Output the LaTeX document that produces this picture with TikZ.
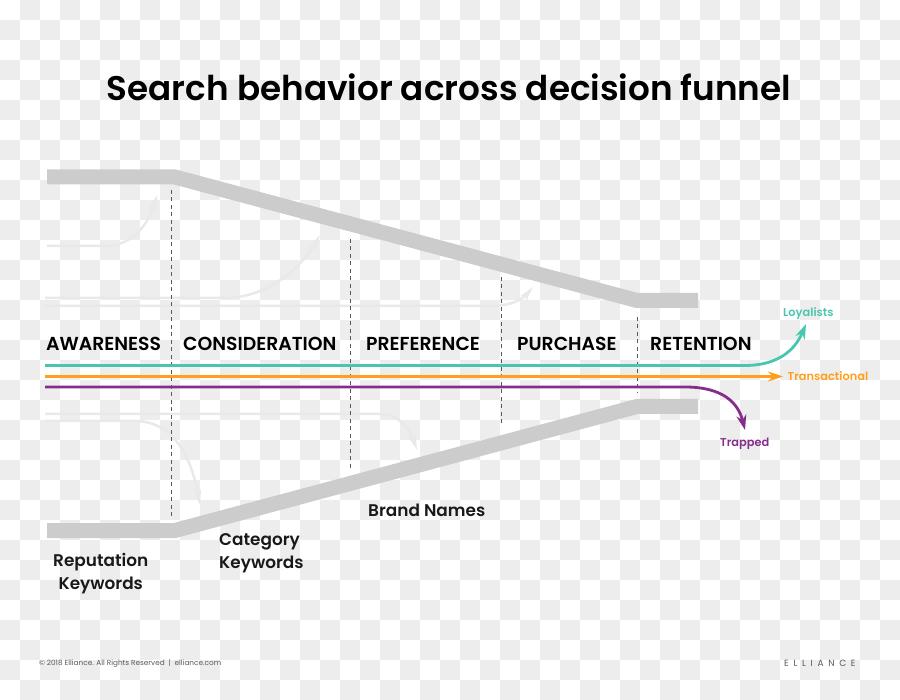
\documentclass[tikz,border=0pt]{standalone}
\usepackage{fontspec}
\setmainfont[BoldFont={Poppins SemiBold}]{Poppins}
\newfontfamily\logofont[LetterSpace=52]{Poppins}
\usetikzlibrary{arrows.meta}
\definecolor{chk}{HTML}{EDEDED}
\definecolor{band}{HTML}{CCCCCC}
\definecolor{ghost}{HTML}{E9E9E9}
\definecolor{tealc}{HTML}{4AC5B0}
\definecolor{orangec}{HTML}{FF9F1C}
\definecolor{purplec}{HTML}{862D8C}

\begin{document}
\begin{tikzpicture}[
  x=1pt,y=-1pt,
  >={Stealth[length=15pt,width=10pt]},
  band/.style={draw=band,line width=15pt,line join=miter},
  ghostline/.style={draw=ghost,line width=2.5pt,->,>={Stealth[length=16pt,width=8pt]}},
  stage/.style={dash pattern=on 4pt off 3.5pt,draw=black!65,line width=1pt},
  flow/.style={line width=2.8pt,->},
  ttl/.style={anchor=base,inner sep=0pt,font=\fontsize{34.2}{40}\selectfont\bfseries},
  head/.style={anchor=base west,inner sep=0pt,font=\fontsize{18.8}{22}\selectfont\bfseries},
  kw/.style={anchor=base west,inner sep=0pt,align=center,font=\fontsize{16.9}{22.5}\selectfont\bfseries,text=black!90},
  lab/.style={anchor=base west,inner sep=0pt,font=\fontsize{11.4}{14}\selectfont\bfseries},
  foot/.style={anchor=base west,inner sep=0pt,text=black!65}
]
\useasboundingbox (0,0) rectangle (900,700);
% checker background
\foreach \j in {0,...,34}
  \foreach \i in {0,...,44} {
    \pgfmathtruncatemacro{\odd}{mod(\i+\j,2)}
    \ifnum\odd=1 \fill[chk] (\i*20,\j*20) rectangle ++(20,20); \fi
  }
% funnel walls
\draw[band] (47,177) -- (175,177) -- (637,300.5) -- (698,300.5);
\draw[band] (47,530.5) -- (175,530.5) -- (637,406.5) -- (698,406.5);
% faded arrows
\coordinate (g1a) at (47,246);
\coordinate (g1b) at (157,195);
\coordinate (g2a) at (45,298);
\coordinate (g2b) at (320,235);
\coordinate (g3a) at (45,306);
\coordinate (g3b) at (533,287);
\coordinate (g4a) at (45,414);
\coordinate (g4b) at (417,450);
\coordinate (g5a) at (45,421);
\coordinate (g5b) at (200,505);
\draw[ghostline] (g1a) -- (105,246) .. controls (132,246) and (148,225) .. (g1b);
\draw[ghostline] (g2a) -- (225,298) .. controls (265,298) and (300,270) .. (g2b);
\draw[ghostline] (g3a) -- (490,306) .. controls (510,306) and (522,300) .. (g3b);
\draw[ghostline] (g4a) -- (380,414) .. controls (400,414) and (410,430) .. (g4b);
\draw[ghostline] (g5a) -- (135,421) .. controls (175,421) and (192,460) .. (g5b);
% stage lines
\coordinate (d1a) at (171.5,190);
\coordinate (d1b) at (171.5,518);
\coordinate (d2a) at (350,239);
\coordinate (d2b) at (350,469);
\coordinate (d3a) at (501,277);
\coordinate (d3b) at (501,427);
\coordinate (d4a) at (637,317);
\coordinate (d4b) at (637,393);
\draw[stage] (d1a) -- (d1b);
\draw[stage] (d2a) -- (d2b);
\draw[stage] (d3a) -- (d3b);
\draw[stage] (d4a) -- (d4b);
% flows
\coordinate (loyalstart) at (45,365.5);
\coordinate (loyaltip) at (806,324);
\coordinate (transstart) at (45,376.5);
\coordinate (transtip) at (783,376.5);
\coordinate (trapstart) at (45,387);
\coordinate (traptip) at (745,430);
\draw[flow,color=tealc] (loyalstart) -- (745,365.5) .. controls (778,365.5) and (795,350) .. (loyaltip);
\draw[flow,color=orangec] (transstart) -- (transtip);
\draw[flow,color=purplec] (trapstart) -- (685,387) .. controls (722,387) and (738,402) .. (traptip);
% labels
\node[ttl] (title) at (449,101) {Search behavior across decision funnel};
\node[head] (awareness) at (46,351) {AWARENESS};
\node[head] (consideration) at (183,351) {CONSIDERATION};
\node[head] (preference) at (366,351) {PREFERENCE};
\node[head] (purchase) at (517,351) {PURCHASE};
\node[head] (retention) at (650,351) {RETENTION};
\node[kw] (reputation) at (53,589) {Reputation\\ Keywords};
\node[kw,align=left] (category) at (219,568) {Category\\ Keywords};
\node[kw] (brand) at (368,516) {Brand Names};
\node[lab,text=tealc] (loyalists) at (783,317) {Loyalists};
\node[lab,text=orangec] (transactional) at (787.5,381) {Transactional};
\node[lab,text=purplec] (trapped) at (720,447) {Trapped};
\node[foot,font=\fontsize{7.3}{9}\selectfont] (copy) at (39,665.5) {© 2018 Elliance. All Rights Reserved \ | \ elliance.com};
\node[foot,font=\fontsize{9}{10}\selectfont\logofont] (logo) at (784,666.5) {ELLIANCE};
\end{tikzpicture}
\end{document}
